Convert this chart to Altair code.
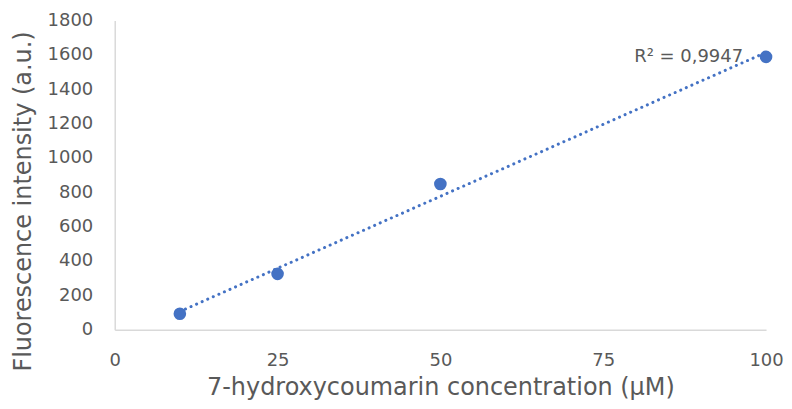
import altair as alt
import pandas as pd

concentration = [10, 25, 50, 100]
intensity = [93, 325, 848, 1588]
r2_label = "R² = 0,9947"

df = pd.DataFrame({"x": concentration, "y": intensity})
ann = pd.DataFrame({"x": [100], "y": [1588], "t": [r2_label]})

FONT = "DejaVu Sans"
BLUE = "#4472C4"
GREY = "#595959"

xscale = alt.Scale(domain=[0, 100], nice=False, zero=True)
yscale = alt.Scale(domain=[0, 1800], nice=False)

xaxis = alt.Axis(values=[0, 25, 50, 75, 100], title="7-hydroxycoumarin concentration (µM)",
                 labelPadding=22, labelOverlap=False, format="d", labelFlush=False,
                 titlePadding=6)
yaxis = alt.Axis(values=list(range(0, 1801, 200)), title="Fluorescence intensity (a.u.)",
                 labelPadding=22, labelOverlap=False, format="d",
                 titleY=181, titleX=-79)

X = alt.X("x:Q", scale=xscale, axis=xaxis)
Y = alt.Y("y:Q", scale=yscale, axis=yaxis)

trend = alt.Chart(df).transform_regression("x", "y", method="linear").mark_line(
    color=BLUE, strokeWidth=3, strokeDash=[0.1, 6], strokeCap="round"
).encode(x=X, y=Y)

points = alt.Chart(df).mark_point(filled=True, size=160, color=BLUE, opacity=1).encode(
    x=X, y=Y)

label = alt.Chart(ann).mark_text(align="right", baseline="middle", dx=-23, font=FONT,
                                 fontSize=18, color=GREY).encode(x=X, y=Y, text="t:N")

chart = alt.layer(trend, label, points).properties(
    width=653, height=310,
    autosize=alt.AutoSizeParams(type="none"),
    padding={"left": 107, "top": 12, "right": 18, "bottom": 70},
).configure_view(stroke=None).configure_axis(
    grid=False, ticks=False, domainColor="#D9D9D9", domainWidth=1.5,
    labelFont=FONT, labelFontSize=18, labelColor=GREY,
    titleFont=FONT, titleFontSize=24, titleColor=GREY, titleFontWeight="normal",
)

chart.save("out.html", embed_options={"renderer": "svg", "actions": False})
